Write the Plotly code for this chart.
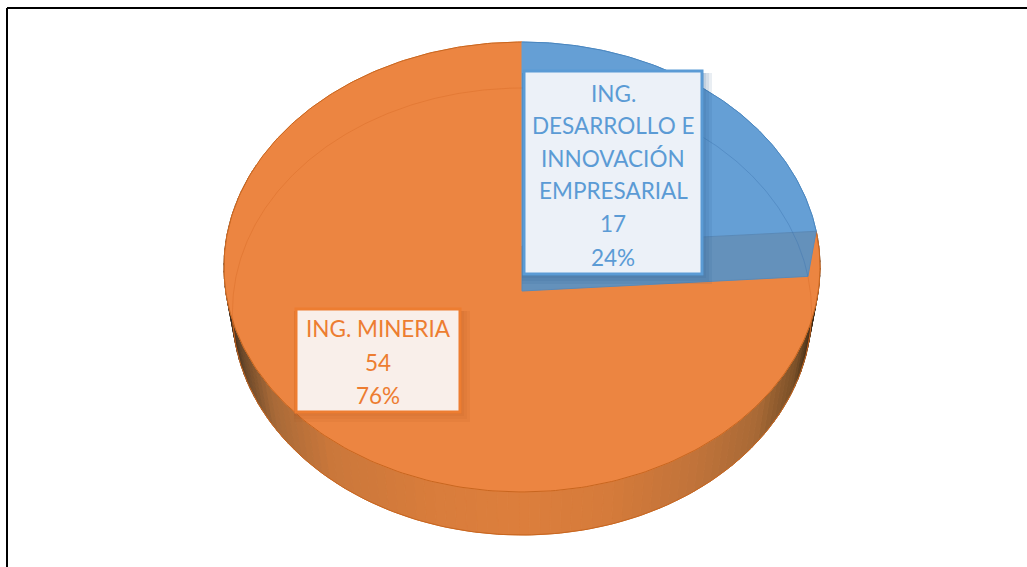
import numpy as np
import plotly.graph_objects as go

categories = ['ING. DESARROLLO E INNOVACIÓN EMPRESARIAL', 'ING. MINERIA']
label_lines = [['ING.', 'DESARROLLO E', 'INNOVACIÓN', 'EMPRESARIAL'], ['ING. MINERIA']]
values = [17, 54]

BLUE = '#659FD5'
ORANGE = '#EC8541'
TEXT_COLORS = ['#5B9BD5', '#ED7D31']
FONT = 'Lato'

# perspective of the disc, in pixels (apex, half sizes, depth factor)
TOP = dict(cx=522, cy=246, a=296.7, b=223.0, k=0.0933)
BOTTOM = dict(cx=522, cy=291, a=288.3, b=221.6, k=0.0917)

WALL_STOPS = [(-1.0, '#3d2c1e'), (-0.95, '#6e4a2a'), (-0.85, '#a96a38'), (-0.65, '#cb783b'),
              (-0.3, '#d97d3c'), (0.0, '#dd7f3d'), (0.3, '#d57b3b'), (0.6, '#c0733a'),
              (0.8, '#a96a36'), (0.93, '#7a5028'), (1.0, '#2e2010')]


def project(face, theta):
    u, v = np.sin(theta), np.cos(theta)
    w = 1 + face['k'] * v
    return face['cx'] + face['a'] * u / w, face['cy'] - face['b'] * v / w


def wall_color(t):
    pos = [s[0] for s in WALL_STOPS]
    rgb = [[int(s[1][i:i + 2], 16) for s in WALL_STOPS] for i in (1, 3, 5)]
    return 'rgb(%d,%d,%d)' % tuple(np.interp(t, pos, c) for c in rgb)


def poly(fig, x, y, fill, line=None, width=1):
    fig.add_scatter(x=list(x), y=list(y), mode='lines', fill='toself', fillcolor=fill,
                    line=dict(color=line or fill, width=width), hoverinfo='skip', showlegend=False)


def stroke(fig, x, y, color, width=1):
    fig.add_scatter(x=list(x), y=list(y), mode='lines', line=dict(color=color, width=width),
                    hoverinfo='skip', showlegend=False)


total = sum(values)
split = 2 * np.pi * values[0] / total

fig = go.Figure()

# outer wall, many thin slices for the shading
edges = np.linspace(split, np.radians(292), 110)
for t0, t1 in zip(edges[:-1], edges[1:]):
    tx0, ty0 = project(TOP, t0)
    tx1, ty1 = project(TOP, t1)
    bx0, by0 = project(BOTTOM, t0)
    bx1, by1 = project(BOTTOM, t1)
    shade = wall_color(((bx0 + bx1) / 2 - BOTTOM['cx']) / BOTTOM['a'])
    poly(fig, [tx0, tx1, bx1, bx0, tx0], [ty0, ty1, by1, by0, ty0], shade)

wall_arc = np.linspace(split, np.radians(292), 200)
bx, by = project(BOTTOM, wall_arc)
stroke(fig, bx, by, '#C8661F')

# top face
arc = np.linspace(split, 2 * np.pi, 300)
x, y = project(TOP, arc)
poly(fig, [TOP['cx'], *x, TOP['cx']], [TOP['cy'], *y, TOP['cy']], ORANGE, line=ORANGE)
stroke(fig, x, y, '#C8661F')

arc = np.linspace(0, split, 120)
x, y = project(TOP, arc)
poly(fig, [TOP['cx'], *x, TOP['cx']], [TOP['cy'], *y, TOP['cy']], BLUE, line=BLUE)
stroke(fig, x, y, '#4A86BF')

# inner wall of the blue slice
tx, ty = project(TOP, split)
bx, by = project(BOTTOM, split)
poly(fig, [TOP['cx'], tx, bx, BOTTOM['cx'], TOP['cx']], [TOP['cy'], ty, by, BOTTOM['cy'], TOP['cy']],
     '#6491BB', line='#5A8AB8')

# floor of the disc seen through the top, only the parts behind the face
x, y = project(BOTTOM, np.linspace(split, np.radians(105), 30))
stroke(fig, x, y, 'rgba(205,95,25,0.28)')
x, y = project(BOTTOM, np.linspace(np.radians(255), 2 * np.pi, 200))
stroke(fig, x, y, 'rgba(205,95,25,0.28)')
x, y = project(BOTTOM, np.linspace(0, split, 120))
stroke(fig, x, y, 'rgba(60,115,175,0.40)')

boxes = [dict(x0=524, x1=702, y0=71, y1=274, fill='#ECF1F8', shadow='rgba(40,85,135,0.10)'),
         dict(x0=296, x1=460, y0=309, y1=412, fill='#F9EFEA', shadow='rgba(170,80,20,0.08)')]
text_x = [613, 378]
text_y = [[93, 125, 158, 190, 223, 257], [328, 362, 395]]

shapes = [dict(type='line', x0=7, x1=7, y0=8, y1=567, line=dict(color='#000000', width=2)),
          dict(type='line', x0=7, x1=1027, y0=8, y1=8, line=dict(color='#000000', width=2))]
annotations = []
for i, box in enumerate(boxes):
    for grow in (10, 7, 4, 2):
        shapes.append(dict(type='rect', x0=box['x0'] - 2, x1=box['x1'] + grow, y0=box['y0'] + 2, y1=box['y1'] + grow,
                           line_width=0, fillcolor=box['shadow']))
    shapes.append(dict(type='rect', x0=box['x0'], x1=box['x1'], y0=box['y0'], y1=box['y1'],
                       line=dict(color=TEXT_COLORS[i], width=3), fillcolor=box['fill']))
    lines = label_lines[i] + [str(values[i]), f'{values[i] / total * 100:.0f}%']
    for line, ypos in zip(lines, text_y[i]):
        annotations.append(dict(x=text_x[i], y=ypos, text=line, showarrow=False, xanchor='center', yanchor='middle',
                                font=dict(family=FONT, size=22.5, color=TEXT_COLORS[i])))

fig.update_layout(
    width=1027,
    height=567,
    margin=dict(l=0, r=0, t=0, b=0),
    paper_bgcolor='white',
    plot_bgcolor='white',
    showlegend=False,
    xaxis=dict(range=[0, 1027], visible=False, fixedrange=True),
    yaxis=dict(range=[567, 0], visible=False, fixedrange=True),
    shapes=shapes,
    annotations=annotations
)

# the page keeps the browser's default 8px body margin otherwise
fig.write_html("out.html", config=dict(displayModeBar=False),
               post_script="document.body.style.margin='0';document.body.style.overflow='hidden';")
